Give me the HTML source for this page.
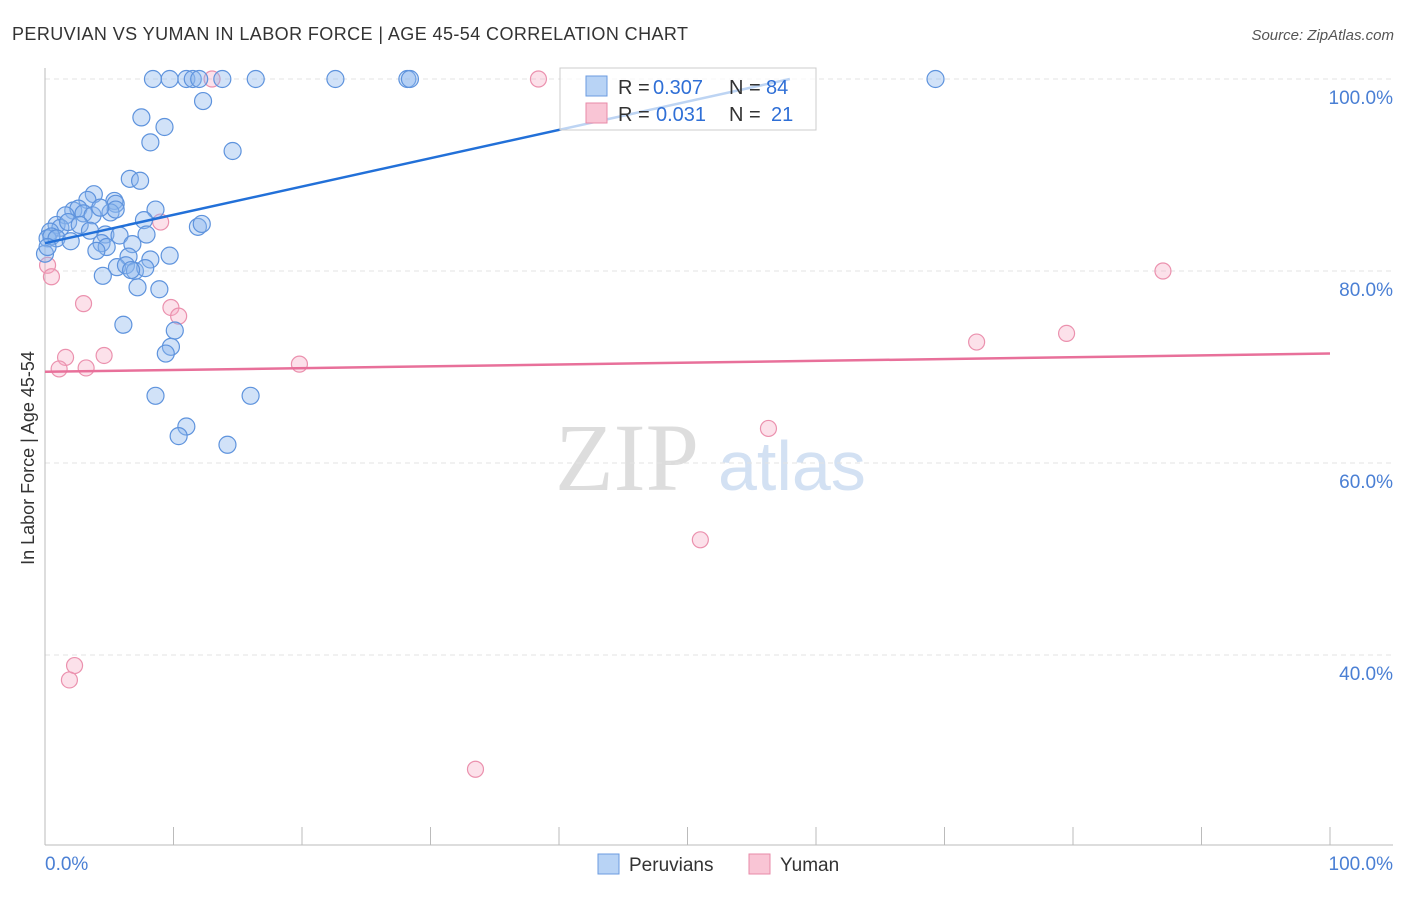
<!DOCTYPE html>
<html><head><meta charset="utf-8"><style>
body{margin:0;background:#fff;font-family:"Liberation Sans",sans-serif}
</style></head><body>
<svg id="c" width="1406" height="892" xmlns="http://www.w3.org/2000/svg" style="font-family:'Liberation Sans',sans-serif">
<text x="12" y="40" font-size="18" fill="#333" textLength="676">PERUVIAN VS YUMAN IN LABOR FORCE | AGE 45-54 CORRELATION CHART</text>
<text x="1394" y="40" font-size="15" fill="#555" font-style="italic" text-anchor="end">Source: ZipAtlas.com</text>
<text x="34" y="458" font-size="18" fill="#333" transform="rotate(-90 34 458)" text-anchor="middle">In Labor Force | Age 45-54</text>
<text x="555" y="490" font-size="96" fill="#ddd" font-family="Liberation Serif,serif">ZIP</text>
<text x="718" y="490" font-size="70" fill="#d3e1f3">atlas</text>
<g id="grid"></g><g id="pts"></g><g id="lines"></g>
<g>
<rect x="560" y="68" width="256" height="62" fill="#fff" fill-opacity="0.7" stroke="#ccc"/>
<rect x="586" y="76" width="21" height="20" fill="#b8d3f5" stroke="#6b9be0"/>
<rect x="586" y="103" width="21" height="20" fill="#f9c5d5" stroke="#e88aa8"/>
<text x="618" y="94" font-size="20" fill="#333">R =</text>
<text x="653" y="94" font-size="20" fill="#2f6fd6">0.307</text>
<text x="729" y="94" font-size="20" fill="#333">N =</text>
<text x="766" y="94" font-size="20" fill="#2f6fd6">84</text>
<text x="618" y="121" font-size="20" fill="#333">R =</text>
<text x="656" y="121" font-size="20" fill="#2f6fd6">0.031</text>
<text x="729" y="121" font-size="20" fill="#333">N =</text>
<text x="771" y="121" font-size="20" fill="#2f6fd6">21</text>
</g>
<g>
<rect x="598" y="854" width="21" height="20" fill="#b8d3f5" stroke="#6b9be0"/>
<text x="629" y="871" font-size="19" fill="#333">Peruvians</text>
<rect x="749" y="854" width="21" height="20" fill="#f9c5d5" stroke="#e88aa8"/>
<text x="780" y="871" font-size="19" fill="#333">Yuman</text>
</g>
</svg>
<script>
const yTicks=[100,80,60,40];
const yTickLabels=["100.0%","80.0%","60.0%","40.0%"];
const xTickLabels=["0.0%","100.0%"];
const peruX=[8.4,9.7,11,11.5,12,13.8,16.4,22.6,28.2,28.4,69.3,7.5,9.3,12.3,8.2,14.6,6.6,7.4,3.8,5.4,5.5,8.6,3.3,2.2,2.6,1.6,3,3.7,5.1,5.5,4.3,7.7,11.9,12.2,0.9,1.2,0.4,0.2,0.5,0.9,1.8,2.7,4.7,5.8,7.9,6.8,4.4,4.8,4,6.5,8.2,9.7,5.6,6.3,7,7.8,6.7,4.5,7.2,8.9,6.1,10.1,9.8,9.4,8.6,16,11,10.4,14.2,0,0.2,3.5,2];
const peruY=[100,100,100,100,100,100,100,100,100,100,100,96,95,97.7,93.4,92.5,89.6,89.4,88,87.3,87,86.4,87.4,86.3,86.5,85.8,86,85.8,86.1,86.4,86.6,85.3,84.6,84.9,84.8,84.5,84.1,83.4,83.6,83.4,85.1,84.8,83.8,83.7,83.8,82.8,82.9,82.5,82.1,81.5,81.2,81.6,80.4,80.6,80,80.3,80.1,79.5,78.3,78.1,74.4,73.8,72.1,71.4,67,67,63.8,62.8,61.9,81.8,82.5,84.2,83.1];
const yumX=[13,38.4,9,0.2,0.5,3,9.8,10.4,1.6,4.6,1.1,3.2,19.8,72.5,79.5,87,56.3,51,2.3,1.9,33.5];
const yumY=[100,100,85.1,80.6,79.4,76.6,76.2,75.3,71,71.2,69.8,69.9,70.3,72.6,73.5,80,63.6,52,38.9,37.4,28.1];
// trend coefficients [intercept, slope] as reported by the source chart
const peruTrend=[82.9,0.295];
const yumTrend=[69.5,0.019];
const X=v=>45+v*12.85, Y=v=>79+(100-v)*9.6;
const NS="http://www.w3.org/2000/svg";
function mk(t,a,p){const e=document.createElementNS(NS,t);for(const k in a)e.setAttribute(k,a[k]);p.appendChild(e);return e;}
const grid=document.getElementById('grid');
yTicks.forEach((v,i)=>{
 const l=mk('line',{x1:45,x2:1393,y1:Y(v),y2:Y(v),stroke:'#e3e3e3','stroke-dasharray':'5,4'},grid);
 
 
 const t=mk('text',{x:1393,y:Y(v)+25,'font-size':19,fill:'#4a7fd4','text-anchor':'end'},grid);
 t.textContent=yTickLabels[i];
 
 
});
const ax=mk('line',{x1:45,x2:45,y1:68,y2:845,stroke:'#bbb'},grid);


const bx=mk('line',{x1:45,x2:1393,y1:845,y2:845,stroke:'#bbb'},grid);


for(let i=0;i<=10;i++){const tk=mk('line',{x1:X(i*10),x2:X(i*10),y1:827,y2:845,stroke:'#bbb'},grid);
 
 }
[[0,'start',45],[100,'end',1393]].forEach((d,i)=>{const t=mk('text',{x:d[2],y:870,'font-size':19,fill:'#4a7fd4','text-anchor':d[1]},grid);t.textContent=xTickLabels[i];
 
 });
const pts=document.getElementById('pts');
yumX.forEach((x,i)=>{const c=mk('circle',{cx:X(x),cy:Y(yumY[i]),r:8,fill:'rgba(246,170,195,0.35)',stroke:'#eb91ae','stroke-width':1.2},pts);
 
 });
peruX.forEach((x,i)=>{const c=mk('circle',{cx:X(x),cy:Y(peruY[i]),r:8.5,fill:'rgba(140,182,238,0.4)',stroke:'#5e93dd','stroke-width':1.2},pts);
 
 });
const lines=document.getElementById('lines');
const pEnd=Math.min(100,(100-peruTrend[0])/peruTrend[1]);
const l1=mk('line',{x1:X(0),y1:Y(peruTrend[0]),x2:X(pEnd),y2:Y(peruTrend[0]+peruTrend[1]*pEnd),stroke:'#2270d8','stroke-width':2.5},lines);


const l2=mk('line',{x1:X(0),y1:Y(yumTrend[0]),x2:X(100),y2:Y(yumTrend[0]+yumTrend[1]*100),stroke:'#e8709a','stroke-width':2.5},lines);


</script>
</body></html>
